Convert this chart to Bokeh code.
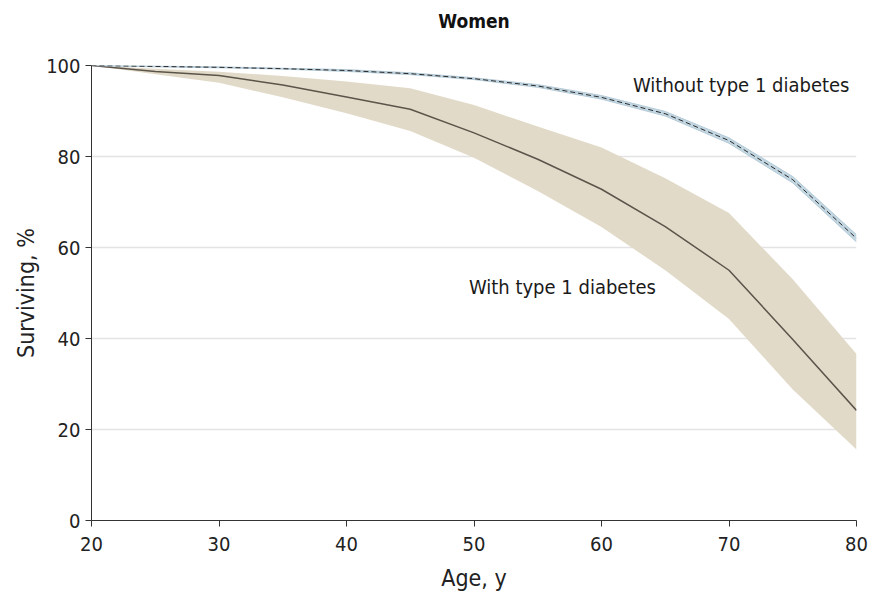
from bokeh.plotting import figure
from bokeh.models import Label, FixedTicker, Range1d, LinearAxis
from bokeh.embed import file_html
from bokeh.resources import INLINE

ages = [20, 25, 30, 35, 40, 45, 50, 55, 60, 65, 70, 75, 80]
t1d = [100, 98.7, 97.8, 95.7, 93.1, 90.4, 85.2, 79.4, 72.8, 64.6, 55.0, 39.8, 24.2]
t1d_lo = [100, 98.1, 96.2, 93.0, 89.5, 85.6, 79.7, 72.4, 64.5, 55.0, 44.3, 28.8, 15.6]
t1d_hi = [100, 99.3, 98.6, 97.7, 96.5, 95.0, 91.3, 86.6, 82.0, 75.2, 67.6, 53.0, 36.6]
ctrl = [100, 99.8, 99.6, 99.3, 98.9, 98.2, 97.1, 95.5, 93.0, 89.4, 83.5, 74.9, 62.0]
ctrl_lo = [100, 99.7, 99.5, 99.2, 98.7, 98.0, 96.9, 95.2, 92.6, 88.9, 82.9, 74.2, 61.2]
ctrl_hi = [100, 99.9, 99.7, 99.4, 99.1, 98.4, 97.3, 95.8, 93.4, 89.9, 84.1, 75.6, 62.8]

x_ticks = [20, 30, 40, 50, 60, 70, 80]
y_ticks = [0, 20, 40, 60, 80, 100]

FONT = "DejaVu Sans Condensed"

p = figure(width=872, height=593, output_backend="svg", toolbar_location=None,
           x_range=Range1d(20, 80), y_range=Range1d(0, 100),
           min_border_left=91, min_border_right=16, min_border_top=65, min_border_bottom=72)
p.outline_line_color = None
p.background_fill_color = "white"

p.xgrid.grid_line_color = None
p.ygrid.ticker = FixedTicker(ticks=y_ticks)
p.ygrid.grid_line_color = "#e3e3e3"
p.ygrid.grid_line_width = 1.5

for ax in (p.xaxis[0], p.yaxis[0]):
    ax.axis_line_color = "#333333"
    ax.major_tick_line_color = "#333333"
    ax.major_tick_out = 6
    ax.major_tick_in = 0
    ax.minor_tick_line_color = None
    ax.major_label_text_font = FONT
    ax.major_label_text_font_size = "20px"
    ax.major_label_text_color = "#222222"
    ax.axis_label_text_font = FONT
    ax.axis_label_text_font_size = "23px"
    ax.axis_label_text_font_style = "normal"
    ax.axis_label_text_color = "#222222"

p.xaxis.ticker = FixedTicker(ticks=x_ticks)
p.yaxis.ticker = FixedTicker(ticks=y_ticks)
p.xaxis.axis_label = "Age, y"
p.yaxis.axis_label = "Surviving, %"
p.xaxis.major_label_standoff = 10
p.yaxis.major_label_standoff = 5
p.xaxis.axis_label_standoff = 11
p.yaxis.axis_label_standoff = 4

# chart title drawn as the label of a bare axis above the frame
title_axis = LinearAxis(ticker=FixedTicker(ticks=[]), axis_line_color=None,
                        major_tick_line_color=None, minor_tick_line_color=None,
                        axis_label="Women", axis_label_text_font=FONT,
                        axis_label_text_font_size="19px", axis_label_text_font_style="bold",
                        axis_label_text_color="#111111", axis_label_standoff=34)
p.add_layout(title_axis, "above")

p.varea(x=ages, y1=t1d_lo, y2=t1d_hi, fill_color="#e2dac8")
p.line(ages, t1d, line_color="#5b544a", line_width=1.5)

p.varea(x=ages, y1=ctrl_lo, y2=ctrl_hi, fill_color="#c3d7e2")
p.line(ages, ctrl_lo, line_color="#b5cbd8", line_width=1)
p.line(ages, ctrl_hi, line_color="#b5cbd8", line_width=1)
p.line(ages, ctrl, line_color="#2a2a2a", line_width=1, line_dash="5 3")

p.add_layout(Label(x=79.45, y=95.8, text="Without type 1 diabetes", text_align="right",
                   text_baseline="middle", text_font=FONT, text_font_size="20px",
                   text_color="#1a1a1a"))
p.add_layout(Label(x=49.6, y=51.3, text="With type 1 diabetes", text_align="left",
                   text_baseline="middle", text_font=FONT, text_font_size="20px",
                   text_color="#1a1a1a"))

open("out.html", "w").write(file_html(p, INLINE))
